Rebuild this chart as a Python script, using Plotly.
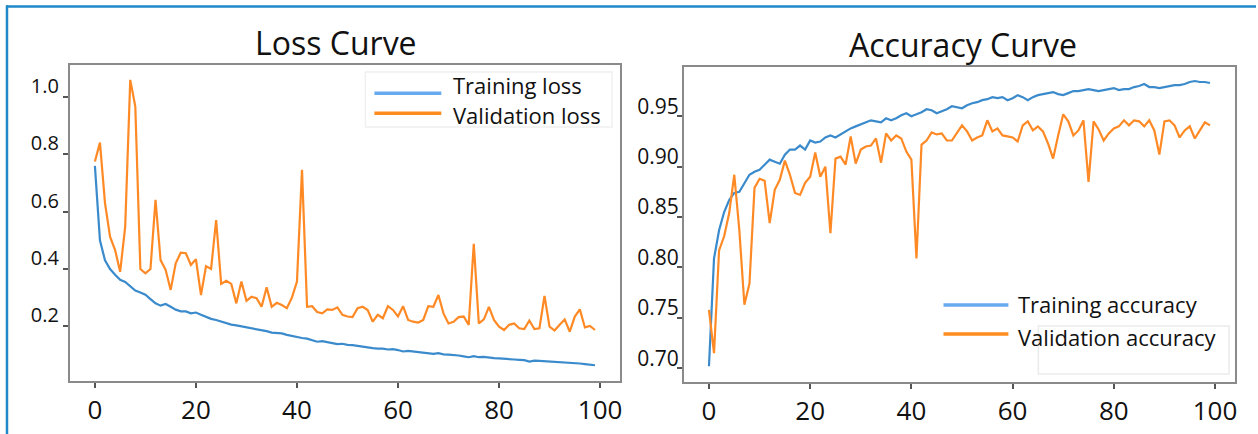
import plotly.graph_objects as go

# ---- training history (100 epochs) ----
epochs = list(range(100))

train_loss = [
    0.76, 0.50, 0.43, 0.40, 0.38, 0.362, 0.355, 0.34, 0.325, 0.318,
    0.31, 0.295, 0.28, 0.272, 0.278, 0.268, 0.258, 0.252, 0.252, 0.245,
    0.248, 0.24, 0.232, 0.226, 0.222, 0.216, 0.212, 0.206, 0.203, 0.20,
    0.197, 0.194, 0.19, 0.186, 0.183, 0.178, 0.177, 0.175, 0.17, 0.166,
    0.162, 0.159, 0.157, 0.152, 0.146, 0.148, 0.145, 0.141, 0.138, 0.139,
    0.135, 0.134, 0.131, 0.129, 0.127, 0.124, 0.122, 0.122, 0.119, 0.12,
    0.117, 0.112, 0.114, 0.112, 0.108, 0.108, 0.106, 0.104, 0.106, 0.102,
    0.101, 0.10, 0.098, 0.095, 0.092, 0.096, 0.092, 0.093, 0.09, 0.089,
    0.088, 0.086, 0.085, 0.084, 0.083, 0.082, 0.077, 0.08, 0.079, 0.078,
    0.077, 0.077, 0.075, 0.075, 0.074, 0.072, 0.07, 0.068, 0.066, 0.064,
]

val_loss = [
    0.775, 0.841, 0.63, 0.513, 0.466, 0.39, 0.548, 1.06, 0.967, 0.40,
    0.385, 0.40, 0.641, 0.431, 0.397, 0.327, 0.42, 0.457, 0.455, 0.414,
    0.434, 0.309, 0.41, 0.40, 0.571, 0.348, 0.359, 0.348, 0.28, 0.356,
    0.289, 0.303, 0.298, 0.268, 0.336, 0.268, 0.282, 0.274, 0.263, 0.30,
    0.356, 0.746, 0.268, 0.27, 0.25, 0.245, 0.259, 0.257, 0.266, 0.24,
    0.234, 0.232, 0.263, 0.268, 0.257, 0.216, 0.24, 0.228, 0.27, 0.257,
    0.234, 0.27, 0.222, 0.216, 0.213, 0.222, 0.27, 0.268, 0.309, 0.245,
    0.21, 0.216, 0.232, 0.234, 0.205, 0.488, 0.21, 0.224, 0.268, 0.222,
    0.199, 0.187, 0.205, 0.21, 0.193, 0.19, 0.22, 0.19, 0.193, 0.306,
    0.199, 0.185, 0.205, 0.224, 0.181, 0.234, 0.259, 0.196, 0.201, 0.187,
]

train_acc = [
    0.702, 0.809, 0.837, 0.855, 0.867, 0.874, 0.875, 0.884, 0.892, 0.895,
    0.897, 0.902, 0.907, 0.905, 0.903, 0.912, 0.917, 0.917, 0.921, 0.917,
    0.926, 0.924, 0.925, 0.929, 0.931, 0.929, 0.932, 0.935, 0.938, 0.94,
    0.942, 0.944, 0.946, 0.945, 0.944, 0.948, 0.946, 0.948, 0.951, 0.953,
    0.950, 0.952, 0.954, 0.957, 0.956, 0.953, 0.955, 0.957, 0.960, 0.959,
    0.958, 0.961, 0.963, 0.964, 0.966, 0.967, 0.969, 0.968, 0.969, 0.966,
    0.968, 0.971, 0.969, 0.966, 0.969, 0.971, 0.972, 0.973, 0.974, 0.972,
    0.971, 0.973, 0.975, 0.975, 0.976, 0.977, 0.976, 0.975, 0.976, 0.977,
    0.978, 0.976, 0.977, 0.977, 0.979, 0.980, 0.982, 0.979, 0.979, 0.978,
    0.979, 0.980, 0.981, 0.981, 0.982, 0.984, 0.985, 0.984, 0.984, 0.983,
]

val_acc = [
    0.758, 0.715, 0.817, 0.831, 0.854, 0.892, 0.837, 0.763, 0.784, 0.879,
    0.888, 0.886, 0.844, 0.877, 0.887, 0.906, 0.892, 0.874, 0.872, 0.884,
    0.890, 0.914, 0.890, 0.900, 0.834, 0.908, 0.910, 0.902, 0.930, 0.903,
    0.917, 0.920, 0.921, 0.928, 0.904, 0.933, 0.926, 0.931, 0.928, 0.915,
    0.907, 0.809, 0.922, 0.926, 0.934, 0.932, 0.933, 0.926, 0.926, 0.933,
    0.941, 0.935, 0.926, 0.929, 0.931, 0.946, 0.935, 0.938, 0.931, 0.930,
    0.929, 0.925, 0.941, 0.945, 0.936, 0.940, 0.935, 0.923, 0.908, 0.931,
    0.952, 0.945, 0.931, 0.936, 0.946, 0.885, 0.945, 0.937, 0.926, 0.933,
    0.938, 0.940, 0.946, 0.941, 0.946, 0.945, 0.940, 0.946, 0.936, 0.912,
    0.945, 0.946, 0.941, 0.929, 0.936, 0.940, 0.928, 0.936, 0.944, 0.941,
]

x_ticks = [0, 20, 40, 60, 80, 100]
loss_ticks = [0.2, 0.4, 0.6, 0.8, 1.0]
loss_tick_text = ["0.2", "0.4", "0.6", "0.8", "1.0"]
acc_ticks = [0.70, 0.75, 0.80, 0.85, 0.90, 0.95]
acc_tick_text = ["0.70", "0.75", "0.80", "0.85", "0.90", "0.95"]

W, H = 1258, 434
FONT = "Open Sans"
BLUE = "#3b8bcc"
ORANGE = "#ff8a25"
LEG_BLUE = "#67aaf0"
LEG_ORANGE = "#ff8c1e"
FRAME = "#8a8a8a"


def px_x(p):
    return p / W


def px_y(p):
    return 1 - p / H


fig = go.Figure()

fig.add_trace(go.Scatter(x=epochs, y=train_loss, mode="lines", name="Training loss",
                         line=dict(color=BLUE, width=2.2), xaxis="x", yaxis="y"))
fig.add_trace(go.Scatter(x=epochs, y=val_loss, mode="lines", name="Validation loss",
                         line=dict(color=ORANGE, width=2.2), xaxis="x", yaxis="y"))
fig.add_trace(go.Scatter(x=epochs, y=train_acc, mode="lines", name="Training accuracy",
                         line=dict(color=BLUE, width=2.2), xaxis="x2", yaxis="y2"))
fig.add_trace(go.Scatter(x=epochs, y=val_acc, mode="lines", name="Validation accuracy",
                         line=dict(color=ORANGE, width=2.2), xaxis="x2", yaxis="y2"))

axis_common = dict(showgrid=False, zeroline=False, showline=True, linecolor=FRAME,
                   linewidth=2, mirror=True, ticks="outside", ticklen=5,
                   tickcolor="#555555", tickwidth=1.5)

fig.update_layout(
    width=W, height=H,
    margin=dict(l=0, r=0, t=0, b=0),
    paper_bgcolor="white", plot_bgcolor="white",
    showlegend=False,
    font=dict(family=FONT, color="#111111"),
    xaxis=dict(domain=[px_x(70), px_x(621)], range=[-4.95, 103.95],
               tickvals=x_ticks, tickfont=dict(size=26), anchor="y", **axis_common),
    yaxis=dict(domain=[px_y(381), px_y(65)], range=[0.009, 1.112],
               tickvals=loss_ticks, ticktext=loss_tick_text, tickfont=dict(size=20),
               ticklabelshift=-11, anchor="x", **axis_common),
    xaxis2=dict(domain=[px_x(685), px_x(1237)], range=[-4.95, 103.95],
                tickvals=x_ticks, tickfont=dict(size=26), anchor="y2", **axis_common),
    yaxis2=dict(domain=[px_y(381.7), px_y(66.7)], range=[0.6867, 0.9992],
                tickvals=acc_ticks, ticktext=acc_tick_text, tickfont=dict(size=21),
                ticklabelshift=-10, ticklabelstandoff=-6, anchor="x2", **axis_common),
)

annotations = [
    dict(text="Loss Curve", x=px_x(337), y=px_y(42), font=dict(size=32)),
    dict(text="Accuracy Curve", x=px_x(965), y=px_y(44), font=dict(size=32)),
]
for a in annotations:
    a.update(xref="paper", yref="paper", showarrow=False, xanchor="center", yanchor="middle")

# hand-placed legend entries: (label, colour, line y, text y, line x0, line x1, text x)
legend_rows = [
    ("Training loss", LEG_BLUE, 93.3, 85, 375, 442, 452),
    ("Validation loss", LEG_ORANGE, 113.3, 115, 375, 442, 452),
    ("Training accuracy", LEG_BLUE, 305, 304, 945, 1010, 1018),
    ("Validation accuracy", LEG_ORANGE, 334, 337, 945, 1010, 1018),
]
shapes = []
for label, col, ly, ty, x0, x1, tx in legend_rows:
    shapes.append(dict(type="line", xref="paper", yref="paper",
                       x0=px_x(x0), x1=px_x(x1), y0=px_y(ly), y1=px_y(ly),
                       line=dict(color=col, width=3.5)))
    annotations.append(dict(text=label, x=px_x(tx), y=px_y(ty), xref="paper", yref="paper",
                            showarrow=False, xanchor="left", yanchor="middle",
                            font=dict(size=22)))

# faint legend frames
shapes.append(dict(type="rect", xref="paper", yref="paper",
                   x0=px_x(366), x1=px_x(613), y0=px_y(127), y1=px_y(72),
                   line=dict(color="#f0f0f0", width=1.5)))
shapes.append(dict(type="rect", xref="paper", yref="paper",
                   x0=px_x(1040), x1=px_x(1231), y0=px_y(374), y1=px_y(326),
                   line=dict(color="#ebebeb", width=1.5)))

# blue outer border (top and left edges)
shapes.append(dict(type="line", xref="paper", yref="paper",
                   x0=px_x(6), x1=1, y0=px_y(6.5), y1=px_y(6.5),
                   line=dict(color="#1e88c8", width=2.5)))
shapes.append(dict(type="line", xref="paper", yref="paper",
                   x0=px_x(7), x1=px_x(7), y0=px_y(5.5), y1=0,
                   line=dict(color="#1e88c8", width=2.5)))

fig.update_layout(annotations=annotations, shapes=shapes)

fig.write_html("out.html")
